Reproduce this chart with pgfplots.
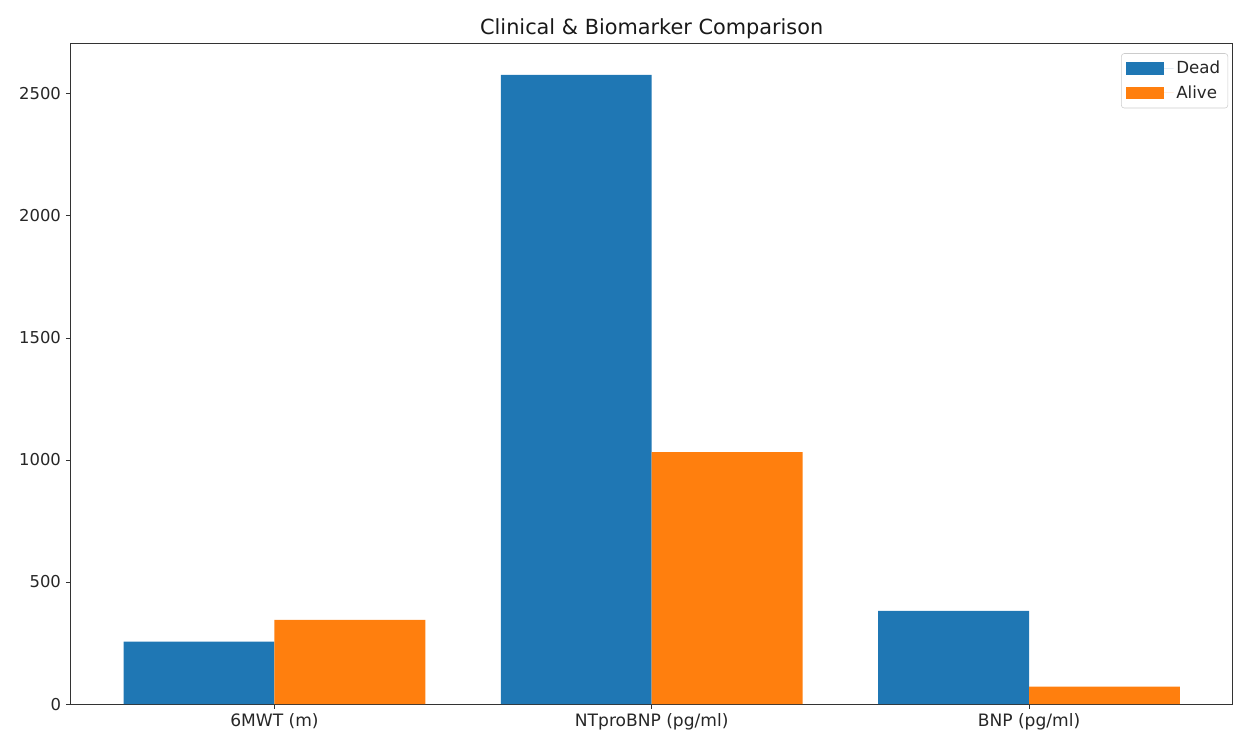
\documentclass[border=0pt]{standalone}
\usepackage{pgfplots}
\pgfplotsset{compat=1.18}
\usepackage{fontspec}
\setmainfont{DejaVu Sans}
\definecolor{mplblue}{HTML}{1F77B4}
\definecolor{mplorange}{HTML}{FF7F0E}
\begin{document}
\begin{tikzpicture}
\useasboundingbox (-50.9pt,-23pt) rectangle (840.4pt,506.9pt);
\begin{axis}[
  at={(0,0)}, anchor=south west,
  scale only axis, width=836.6pt, height=475.7pt,
  xmin=-0.54, xmax=2.54, ymin=0, ymax=2707,
  ybar=0pt, bar width=0.4,
  xtick={0,1,2}, xticklabels={6MWT (m),NTproBNP (pg/ml),BNP (pg/ml)},
  ytick={0,500,1000,1500,2000,2500},
  tick align=outside, tick pos=left,
  major tick length=3.5pt,
  tick style={black!80, line width=0.6pt},
  axis line style={black!80, line width=0.6pt},
  /pgf/number format/assume math mode=true,
  /pgf/number format/1000 sep={},
  tick label style={font=\fontsize{11.8}{14}\selectfont, text=black!85},
  xticklabel style={font=\fontsize{12.3}{14}\selectfont},
  title={Clinical \& Biomarker Comparison},
  title style={font=\fontsize{15}{18}\selectfont, yshift=-6pt, text=black!90},
  legend style={at={(0.996,0.985)}, anchor=north east, font=\fontsize{12}{14}\selectfont,
    draw=black!20, rounded corners=2pt, inner sep=3.5pt, row sep=3pt, text=black!85},
  legend cell align=left,
  legend image code/.code={\fill[#1, sharp corners] (0pt,-4.5pt) rectangle (27pt,4.5pt);
    \path (0pt,0pt) -- (34pt,0pt);},
]
\addplot[fill=mplblue, draw=none] coordinates {(0,256) (1,2578) (2,382)};
\addlegendentry{Dead}
\addplot[fill=mplorange, draw=none] coordinates {(0,345) (1,1032) (2,71)};
\addlegendentry{Alive}
\end{axis}
\end{tikzpicture}
\end{document}
